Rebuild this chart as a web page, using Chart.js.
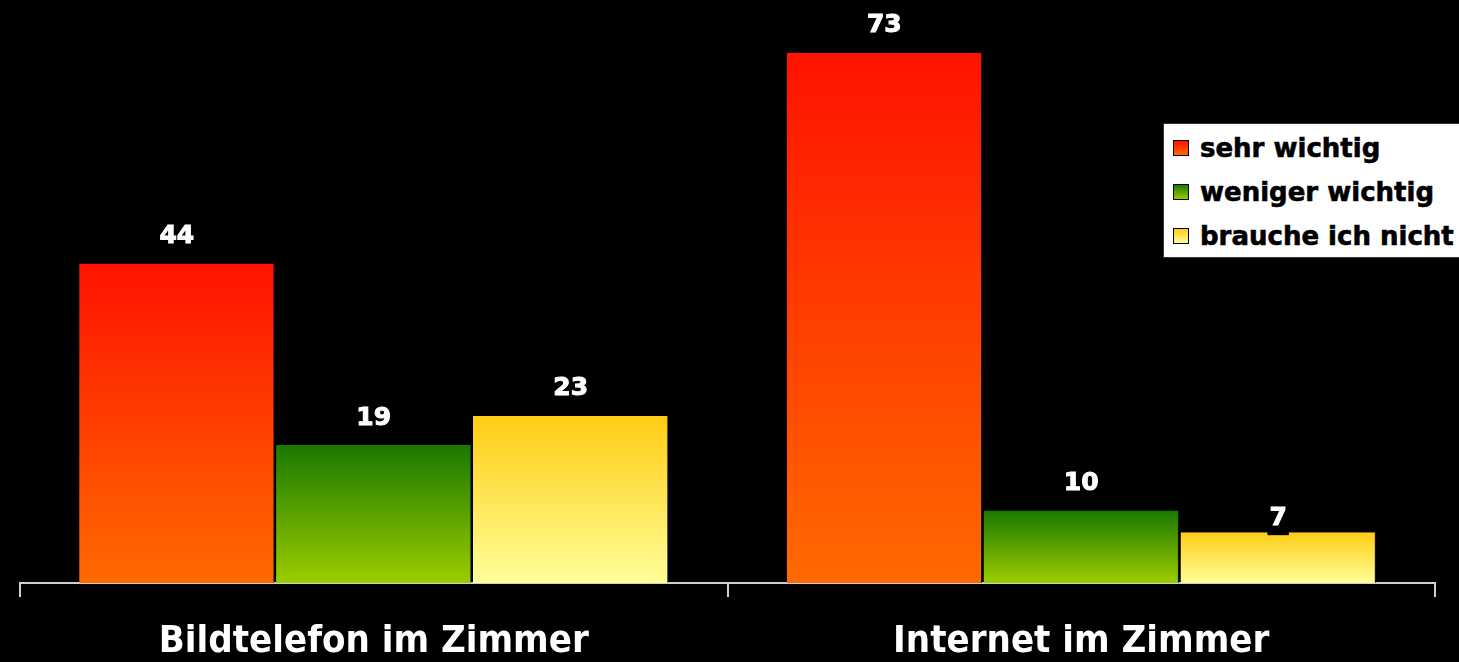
<!DOCTYPE html>
<html>
<head>
<meta charset="utf-8">
<script src="https://cdn.jsdelivr.net/npm/chart.js@4.4.1/dist/chart.umd.min.js"></script>
<style>
    html, body { margin: 0; padding: 0; background: #000; }
    #wrap { position: relative; width: 1459px; height: 662px; background: #000; overflow: hidden; }
    #legend {
        position: absolute; left: 1163px; top: 123px; width: 300px; height: 135px;
        background: #fff; border: 1px solid #333; box-sizing: border-box;
        font-family: 'DejaVu Sans', Verdana, sans-serif; font-weight: bold; font-size: 26px; color: #000;
        -webkit-text-stroke: 0.6px #000;
        padding-top: 2px;
    }
    #legend .item { display: flex; align-items: center; height: 44px; white-space: nowrap; }
    #legend .sw { width: 14px; height: 14px; border: 1px solid #000; margin-left: 9px; margin-right: 11px; }
</style>
</head>
<body>
<div id="wrap">
    <canvas id="chart"></canvas>
    <div id="legend"></div>
</div>
<script>
// --- data ---
const categories = ['Bildtelefon im Zimmer', 'Internet im Zimmer'];
const seriesNames = ['sehr wichtig', 'weniger wichtig', 'brauche ich nicht'];
const sehrWichtig = [44, 73];
const wenigerWichtig = [19, 10];
const braucheNicht = [23, 7];

// top / bottom colours of each series gradient
const gradColors = [
    ['#ff1200', '#ff6a00'],
    ['#1a7800', '#9ccc00'],
    ['#ffcc14', '#ffff99']
];

function barGradient(ctx, seriesIdx) {
    const chart = ctx.chart;
    if (!chart.chartArea || ctx.type !== 'data') return gradColors[seriesIdx][1];
    const y = chart.scales.y;
    const top = y.getPixelForValue(ctx.raw);
    const bottom = y.getPixelForValue(0);
    const g = chart.ctx.createLinearGradient(0, top, 0, bottom);
    g.addColorStop(0, gradColors[seriesIdx][0]);
    g.addColorStop(1, gradColors[seriesIdx][1]);
    return g;
}

// --- value labels above the bars ---
const valueLabels = {
    id: 'valueLabels',
    afterDatasetsDraw(chart, args, opts) {
        const ctx = chart.ctx;
        ctx.save();
        ctx.font = 'bold 25px "DejaVu Sans"';
        ctx.textAlign = 'center';
        ctx.textBaseline = 'middle';
        ctx.lineWidth = 1;
        ctx.strokeStyle = '#fff';
        chart.data.datasets.forEach((ds, di) => {
            chart.getDatasetMeta(di).data.forEach((bar, i) => {
                const txt = String(ds.data[i]);
                const lift = (opts.lift[di + '-' + i]) || opts.offset;
                const yy = bar.y - lift;
                const w = ctx.measureText(txt).width + 4;
                ctx.fillStyle = '#000';
                ctx.fillRect(bar.x - w / 2, yy - 14, w, 31);
                ctx.fillStyle = '#fff';
                ctx.fillText(txt, bar.x, yy);
                ctx.strokeText(txt, bar.x, yy);
            });
        });
        ctx.restore();
    }
};

const datasets = [sehrWichtig, wenigerWichtig, braucheNicht].map((vals, si) => ({
    label: seriesNames[si],
    data: vals,
    backgroundColor: (c) => barGradient(c, si),
    borderColor: '#1a1a1a',
    borderWidth: { right: 1 },
    categoryPercentage: 0.835,
    barPercentage: 0.992
}));

const chart = new Chart(document.getElementById('chart'), {
    type: 'bar',
    data: { labels: categories, datasets: datasets },
    options: {
        responsive: true,
        maintainAspectRatio: false,
        animation: false,
        layout: { padding: { left: 20, right: 24, top: 2, bottom: 0 } },
        plugins: {
            legend: { display: false },
            tooltip: { enabled: false },
            valueLabels: { offset: 27, lift: { '2-1': 14 } }
        },
        scales: {
            y: { display: false, min: 0, max: 80 },
            x: {
                afterFit(scale) { scale.height = 79; },
                border: { display: true, color: '#cfcfcf', width: 2 },
                grid: { display: true, offset: true, drawOnChartArea: false, drawTicks: true, tickLength: 14, color: '#cfcfcf', lineWidth: 2 },
                ticks: {
                    color: '#fff',
                    padding: 22,
                    font: { family: '"DejaVu Sans Condensed", "DejaVu Sans"', weight: 'bold', size: 38 }
                }
            }
        }
    },
    plugins: [valueLabels]
});

// --- legend box in html ---
const legend = document.getElementById('legend');
seriesNames.forEach((name, i) => {
    const row = document.createElement('div');
    row.className = 'item';
    const sw = document.createElement('span');
    sw.className = 'sw';
    sw.style.background = 'linear-gradient(' + gradColors[i][0] + ',' + gradColors[i][1] + ')';
    const t = document.createElement('span');
    t.textContent = name;
    row.appendChild(sw);
    row.appendChild(t);
    legend.appendChild(row);
});
</script>
</body>
</html>
